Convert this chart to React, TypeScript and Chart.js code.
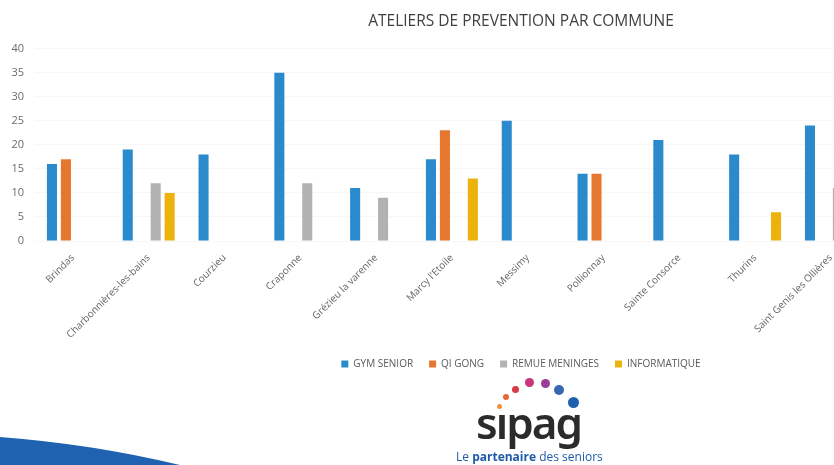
import React, { useEffect, useRef } from "react";
import { Chart, registerables } from "chart.js";

Chart.register(...registerables);

const title = "ATELIERS DE PREVENTION PAR COMMUNE";
const communes = [
  "Brindas",
  "Charbonnières-les-bains",
  "Courzieu",
  "Craponne",
  "Grézieu la varenne",
  "Marcy l'Etoile",
  "Messimy",
  "Pollionnay",
  "Sainte Consorce",
  "Thurins",
  "Saint Genis les Ollières",
];
const gymSenior = [16, 19, 18, 35, 11, 17, 25, 14, 21, 18, 24];
const qiGong = [17, null, null, null, null, 23, null, 14, null, null, null];
const remueMeninges = [null, 12, null, 12, 9, null, null, null, null, null, 11];
const informatique = [null, 10, null, null, null, 13, null, null, null, 6, null];
const seriesNames = ["GYM SENIOR", "QI GONG", "REMUE MENINGES", "INFORMATIQUE"];
const seriesColors = ["#2a8acb", "#e5782e", "#b2b2b2", "#edb20c"];
const yTicks = [0, 5, 10, 15, 20, 25, 30, 35, 40];

const FONT = "'Open Sans', sans-serif";

const dots = [
  { x: 499, y: 406, d: 5, c: "#f0913c" },
  { x: 506, y: 397, d: 6, c: "#e8653a" },
  { x: 515, y: 389, d: 7, c: "#d93a45" },
  { x: 529, y: 382, d: 9, c: "#c9347c" },
  { x: 545, y: 383, d: 9, c: "#9a3e98" },
  { x: 559, y: 390, d: 10, c: "#3567b2" },
  { x: 573, y: 402, d: 11, c: "#1e5fae" },
];

export default function App() {
  const ref = useRef<HTMLCanvasElement | null>(null);

  useEffect(() => {
    if (!ref.current) return;
    const data = [gymSenior, qiGong, remueMeninges, informatique];
    const chart = new Chart(ref.current, {
      type: "bar",
      data: {
        labels: communes,
        datasets: seriesNames.map((name, i) => ({
          label: name,
          data: data[i],
          backgroundColor: seriesColors[i],
          borderWidth: 0,
          categoryPercentage: 0.737,
          barPercentage: 0.72,
        })),
      },
      options: {
        responsive: false,
        animation: false,
        devicePixelRatio: 1,
        layout: { padding: 0 },
        plugins: {
          title: {
            display: true,
            text: title,
            color: "#404040",
            font: { family: FONT, size: 15.5, weight: "normal" },
            padding: { top: 12, bottom: 18 },
          },
          legend: {
            position: "bottom",
            labels: {
              boxWidth: 7,
              boxHeight: 7,
              padding: 16,
              color: "#595959",
              font: { family: FONT, size: 10 },
            },
          },
          tooltip: { enabled: false },
        },
        scales: {
          x: {
            grid: { display: false, drawTicks: false },
            border: { display: false },
            ticks: {
              autoSkip: false,
              minRotation: 45,
              maxRotation: 45,
              padding: 11,
              color: "#666666",
              font: { family: FONT, size: 10 },
            },
            afterFit: (s: any) => {
              s.height = 102;
            },
          },
          y: {
            min: 0,
            max: 40,
            afterBuildTicks: (s: any) => {
              s.ticks = yTicks.map((v) => ({ value: v }));
            },
            grid: { color: "rgba(0,0,0,0.03)", drawTicks: false },
            border: { display: false },
            ticks: {
              padding: 11,
              color: "#6b6b6b",
              font: { family: FONT, size: 11 },
            },
            afterFit: (s: any) => {
              s.width = 35;
            },
          },
          yR: {
            position: "right",
            grid: { display: false, drawTicks: false },
            border: { display: false },
            ticks: { display: false },
            afterFit: (s: any) => {
              s.width = 173.2;
            },
          },
        },
      },
    });
    return () => chart.destroy();
  }, []);

  return (
    <div
      style={{
        position: "fixed",
        left: 0,
        top: 0,
        width: 834,
        height: 465,
        overflow: "hidden",
        background: "#ffffff",
      }}
    >
      <canvas ref={ref} width={1042} height={379} style={{ display: "block" }} />
      {dots.map((p, i) => (
        <div
          key={i}
          style={{
            position: "absolute",
            left: p.x - p.d / 2,
            top: p.y - p.d / 2,
            width: p.d,
            height: p.d,
            borderRadius: "50%",
            background: p.c,
          }}
        />
      ))}
      <div
        style={{
          position: "absolute",
          left: 476,
          top: 392,
          fontFamily: "'Noto Sans', sans-serif",
          fontWeight: 600,
          fontSize: 44,
          letterSpacing: -2,
          lineHeight: "60px",
          color: "#2b2b2b",
        }}
      >
        sıpag
      </div>
      <div
        style={{
          position: "absolute",
          left: 456,
          top: 449,
          fontFamily: FONT,
          fontSize: 12,
          lineHeight: "16px",
          color: "#1d5ba8",
          whiteSpace: "nowrap",
        }}
      >
        Le <b>partenaire</b> des seniors
      </div>
      <svg
        width={834}
        height={465}
        style={{ position: "absolute", left: 0, top: 0, pointerEvents: "none" }}
      >
        <path d="M0,437 Q92,444 180,465 L0,465 Z" fill="#1f62b0" />
      </svg>
    </div>
  );
}
